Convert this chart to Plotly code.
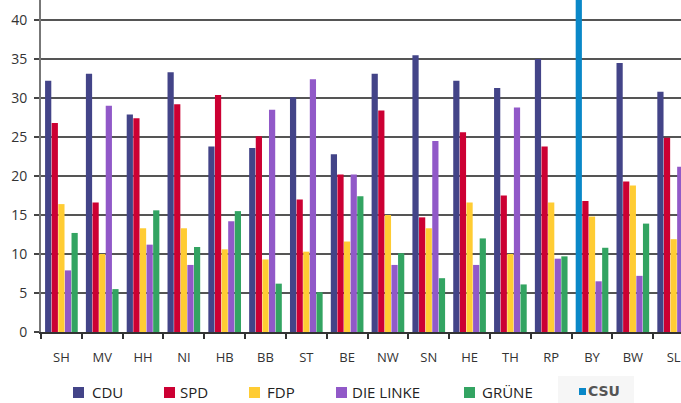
import plotly.graph_objects as go

states = ["SH", "MV", "HH", "NI", "HB", "BB", "ST", "BE", "NW", "SN", "HE", "TH", "RP", "BY", "BW", "SL"]
cdu = [32.2, 33.1, 27.9, 33.3, 23.8, 23.6, 30.1, 22.8, 33.1, 35.5, 32.2, 31.3, 35.0, None, 34.5, 30.8]
spd = [26.8, 16.6, 27.4, 29.2, 30.4, 25.1, 17.0, 20.2, 28.4, 14.7, 25.6, 17.5, 23.8, 16.8, 19.3, 24.9]
fdp = [16.4, 10.0, 13.3, 13.3, 10.6, 9.3, 10.3, 11.6, 15.0, 13.3, 16.6, 10.0, 16.6, 14.8, 18.8, 11.9]
linke = [7.9, 29.0, 11.2, 8.6, 14.2, 28.5, 32.4, 20.2, 8.6, 24.5, 8.6, 28.8, 9.4, 6.5, 7.2, 21.2]
gruene = [12.7, 5.5, 15.6, 10.9, 15.5, 6.2, 5.1, 17.4, 10.1, 6.9, 12.0, 6.1, 9.7, 10.8, 13.9, 6.8]
csu = [None] * 13 + [42.6, None, None]

parties = ["CDU", "SPD", "FDP", "DIE LINKE", "GRÜNE", "CSU"]
series = [cdu, spd, fdp, linke, gruene, csu]
colors = ["#434488", "#cc0033", "#ffcc33", "#9159c8", "#33a462", "#0a88c8"]
groups = ["a", "b", "c", "d", "e", "a"]

W, H = 681, 403
L, R, T, B = 41, 0, 0, 71
pw, ph = W - L - R, H - T - B

fig = go.Figure()
for name, vals, col, g in zip(parties, series, colors, groups):
    fig.add_trace(go.Bar(x=states, y=vals, name=name, marker_color=col,
                         marker_line_width=0, offsetgroup=g, showlegend=False))

# custom legend (positions in pixels -> paper)
def px(x):
    return (x - L) / pw

def py(y):
    return (ph + T - y) / ph

leg_sq = [73, 164, 249, 336, 464]
leg_tx = [90, 178, 265, 350, 480]
shapes = []
annotations = []
for i in range(5):
    shapes.append(dict(type="rect", xref="paper", yref="paper",
                       x0=px(leg_sq[i]), x1=px(leg_sq[i] + 11),
                       y0=py(398), y1=py(387), fillcolor=colors[i], line_width=0))
    annotations.append(dict(text=parties[i], xref="paper", yref="paper",
                            x=px(leg_tx[i]), y=py(391.5), xanchor="left", yanchor="middle",
                            showarrow=False, font=dict(family="Open Sans", size=15, color="#222")))
# CSU entry (pasted-in look)
shapes.append(dict(type="rect", xref="paper", yref="paper", x0=px(558), x1=px(634),
                   y0=py(403), y1=py(376), fillcolor="#f6f6f6", line_width=0, layer="below"))
shapes.append(dict(type="rect", xref="paper", yref="paper", x0=px(579), x1=px(586),
                   y0=py(395), y1=py(388), fillcolor=colors[5], line_width=0))
annotations.append(dict(text="<b>CSU</b>", xref="paper", yref="paper", x=px(586), y=py(391),
                        xanchor="left", yanchor="middle", showarrow=False,
                        font=dict(family="DejaVu Sans", size=14, color="#555")))

fig.update_layout(
    width=W, height=H,
    margin=dict(l=L, r=R, t=T, b=B, pad=0),
    paper_bgcolor="white", plot_bgcolor="white",
    barmode="group", bargap=0.19, bargroupgap=0.06,
    font=dict(family="Open Sans", color="#333"),
    shapes=shapes, annotations=annotations,
    xaxis=dict(type="category", range=[-0.5, 15.18], tickson="boundaries",
               ticks="outside", ticklen=5, tickwidth=1.5, tickcolor="#333",
               showline=True, linecolor="#333", linewidth=2,
               showgrid=False, tickfont=dict(size=13, color="#333"),
               ticklabelstandoff=12),
    yaxis=dict(range=[0, 42.57], tickvals=[0, 5, 10, 15, 20, 25, 30, 35, 40],
               ticks="outside", ticklen=5, tickwidth=1.5, tickcolor="#444",
               showline=True, linecolor="#777", linewidth=2,
               showgrid=True, gridcolor="#555", gridwidth=1.5, zeroline=False,
               tickfont=dict(size=14, color="#333"), ticklabelstandoff=4),
)

fig.write_html("out.html", config={"displayModeBar": False},
               post_script="document.body.style.margin='0';document.body.style.padding='0';")
